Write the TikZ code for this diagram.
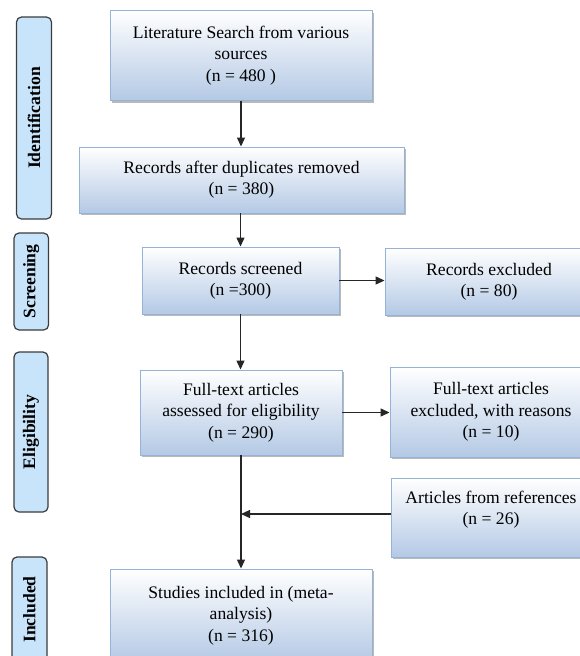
\documentclass[tikz,border=0pt]{standalone}
\usepackage{fontspec}
\setmainfont{Liberation Serif}
\usetikzlibrary{arrows.meta,shadows}
\definecolor{boxedge}{RGB}{149,179,215}
\definecolor{boxbottom}{RGB}{180,201,229}
\definecolor{labfill}{RGB}{200,228,250}
\definecolor{labedge}{RGB}{60,60,60}
\begin{document}
\begin{tikzpicture}[x=1pt,y=-1pt,
  every node/.style={font=\fontsize{17.6}{21.3}\selectfont},
  stepbox/.style={draw=boxedge, line width=0.9pt, top color=white, bottom color=boxbottom,
    inner sep=0pt, align=center,
    drop shadow={shadow xshift=1.6pt, shadow yshift=-2pt, fill=black!50, opacity=0.55}},
  phase/.style={draw=labedge, line width=1.2pt, fill=labfill, rounded corners=5pt,
    rotate=90, inner sep=0pt, font=\fontsize{17.6}{21.3}\selectfont\bfseries},
  arr/.style={line width=1.2pt, draw=black!85, -{Triangle[length=9pt,width=8pt]}},
  ln/.style={line width=1.2pt, draw=black!85}]
\useasboundingbox (0,0) rectangle (580,656);
\clip (0,0) rectangle (580,656);

% phase labels
\node[phase, minimum width=202pt, minimum height=35pt] (pid) at (34,118) {Identification};
\node[phase, minimum width=97pt, minimum height=34.5pt] (psc) at (31.3,281.5) {Screening};
\node[phase, minimum width=160pt, minimum height=34pt] (pel) at (31,432) {Eligibility};
\node[phase, minimum width=105pt, minimum height=35pt] (pin) at (29.5,609.5) {Included};

% boxes
\node[stepbox, minimum width=262pt, minimum height=90pt] (b1) at (241,55.5)
  {Literature Search from various\\sources\\(n = 480 )};
\node[stepbox, minimum width=325pt, minimum height=66pt] (b2) at (241.5,180)
  {Records after duplicates removed\\(n = 380)};
\node[stepbox, minimum width=197pt, minimum height=67pt] (b3) at (240.5,280.5)
  {Records screened\\(n =300)};
\node[stepbox, minimum width=208pt, minimum height=67pt] (b4) at (489,281.5)
  {Records excluded\\(n = 80)};
\node[stepbox, minimum width=202pt, minimum height=85pt] (b5) at (241,412.5)
  {Full-text articles\\assessed for eligibility\\(n = 290)};
\node[stepbox, minimum width=202pt, minimum height=90pt] (b6) at (491,412)
  {Full-text articles\\excluded, with reasons\\(n = 10)};
\node[stepbox, minimum width=201pt, minimum height=79pt] (b7) at (491.5,517.5) {};
\node[align=center, inner sep=0pt] (b7t) at (491,510) {Articles from references\\(n = 26)};
\node[stepbox, minimum width=262pt, minimum height=93pt] (b8) at (241,615.5)
  {Studies included in (meta-\\analysis)\\(n = 316)};

% connectors
\draw[arr] (b1.south) -- (b2.north -| b1.south);
\draw[arr] (b2.south -| b3.north) -- (b3.north);
\draw[arr] (b3.east) -- (b4.west |- b3.east);
\draw[arr] (b3.south) -- (b5.north -| b3.south);
\draw[arr] (b5.east) -- (b6.west |- b5.east);
\draw[arr] (b5.south) -- (b8.north -| b5.south);
\coordinate (m) at (241,514);
\draw[arr] (m -| b7.west) -- (m);
\end{tikzpicture}
\end{document}
